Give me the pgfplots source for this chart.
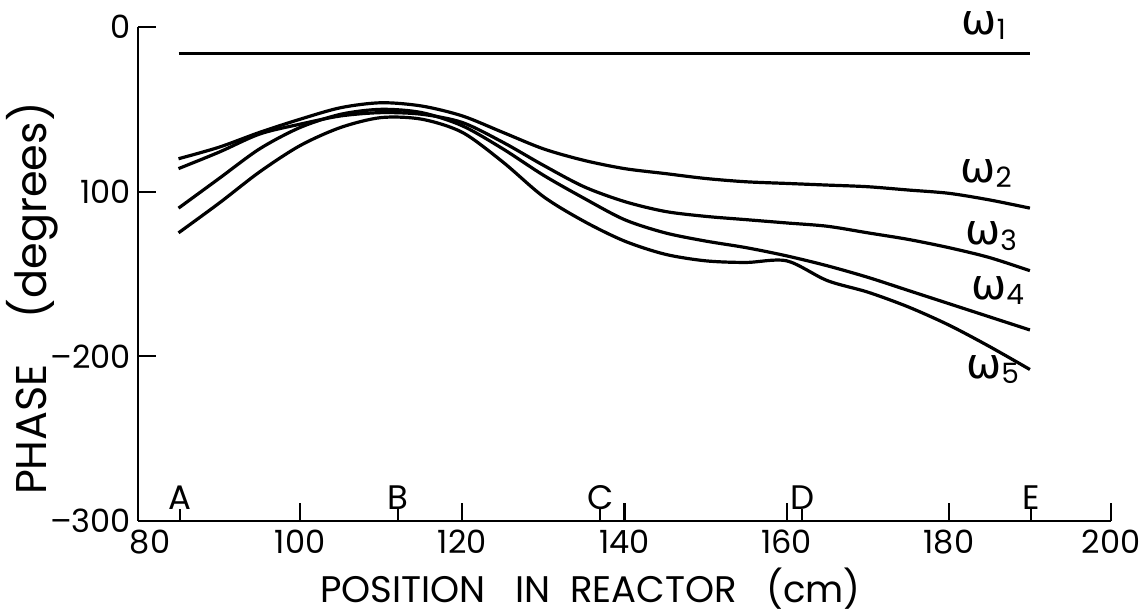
\documentclass[border=0pt]{standalone}
\usepackage{fontspec}
\setmainfont{Poppins}
\newfontfamily\gk{DejaVu Sans}
\usepackage{pgfplots}
\usepackage{pgfplotstable}
\pgfplotsset{compat=1.18}
\newcommand{\om}[1]{{\fontsize{21}{23}\selectfont\gk ω}\raisebox{-0.5ex}{\fontsize{14}{15}\selectfont #1}}

\pgfplotstableread{
x    w1   w2    w3    w4    w5
85   -16  -80   -86   -110  -125
90   -16  -73   -76   -92   -107
95   -16  -64   -65   -74   -88
100  -16  -56   -59   -61   -72
105  -16  -49   -54   -53   -61
110  -16  -46   -52   -50   -55
115  -16  -48   -53   -52   -56
120  -16  -54   -58   -60   -64
125  -16  -64   -70   -74   -82
130  -16  -74   -84   -90   -103
135  -16  -81   -97   -104  -118
140  -16  -86   -106  -117  -130
145  -16  -89   -112  -125  -138
150  -16  -92   -115  -130  -142
155  -16  -94   -117  -134  -143
160  -16  -95   -119  -139  -142
165  -16  -96   -121  -145  -154
170  -16  -97   -125  -152  -161
175  -16  -99   -129  -160  -170
180  -16  -101  -134  -168  -181
185  -16  -105  -140  -176  -194
190  -16  -110  -148  -184  -208
}\data

\begin{document}
\begin{tikzpicture}
\begin{axis}[
  name=ax,
  scale only axis,
  width=486.5pt, height=247pt,
  xmin=80, xmax=200, ymin=-300, ymax=0,
  axis x line*=bottom, axis y line*=left,
  x axis line style={-, line width=1.3pt},
  y axis line style={-, line width=1.3pt},
  clip=false,
  xtick={80,100,...,200},
  xticklabels={\hspace*{12pt}80,100,120,140,160,180,200},
  ytick={-300,-200,-100,0},
  yticklabels={–300,–200,100,0},
  tick align=inside,
  major tick length=9pt,
  tick style={line width=1.1pt, black},
  ticklabel style={font=\fontsize{16}{18}\selectfont},
  xticklabel style={yshift=-1pt},
  extra x ticks={85.2,112.1,137.0,161.9,190.1},
  extra x tick labels={A,B,C,D,E},
  extra x tick style={major tick length=6pt,
     xticklabel style={anchor=south, yshift=3pt, font=\fontsize{17}{19}\selectfont}},
  xlabel={POSITION\ \ \ IN\ \ REACTOR\ \ \ (cm)},
  ylabel={PHASE\ \ \ \ (degrees)},
  xlabel style={font=\fontsize{18.5}{20}\selectfont, at={(axis description cs:0.465,0)}, anchor=center, yshift=-34pt},
  ylabel style={font=\fontsize{21.5}{23}\selectfont, at={(axis description cs:0,0.45)}, anchor=center, yshift=53pt},
]
\addplot[black, line width=1.6pt, smooth] table[x=x,y=w1] {\data};
\addplot[black, line width=1.6pt, smooth] table[x=x,y=w2] {\data};
\addplot[black, line width=1.6pt, smooth] table[x=x,y=w3] {\data};
\addplot[black, line width=1.6pt, smooth] table[x=x,y=w4] {\data};
\addplot[black, line width=1.6pt, smooth] table[x=x,y=w5] {\data};
\node at (axis cs:184.3,1) {\om{1}};
\node at (axis cs:184.6,-89) {\om{2}};
\node at (axis cs:185.2,-127) {\om{3}};
\node at (axis cs:186,-160) {\om{4}};
\node at (axis cs:185.4,-208) {\om{5}};
\end{axis}
\pgfresetboundingbox
\path ([shift={(-69pt,-46pt)}]ax.south west) rectangle ([shift={(17pt,13.5pt)}]ax.north east);
\end{tikzpicture}
\end{document}
